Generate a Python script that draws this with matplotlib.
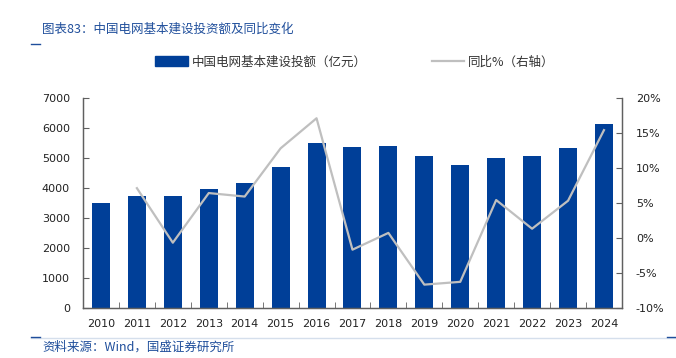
import numpy as np
import matplotlib
matplotlib.use("Agg")
import matplotlib.pyplot as plt
from matplotlib.patches import Patch
from matplotlib.lines import Line2D

plt.rcParams['font.family'] = ['DejaVu Sans', 'Noto Sans CJK SC']

years = ['2010', '2011', '2012', '2013', '2014', '2015', '2016', '2017',
         '2018', '2019', '2020', '2021', '2022', '2023', '2024']
invest = [3490, 3740, 3720, 3960, 4160, 4680, 5490, 5380, 5410,
          5070, 4760, 4990, 5070, 5330, 6140]
# yoy starts in 2011
yoy = [7.1, -0.7, 6.4, 5.9, 12.8, 17.1, -1.7, 0.7, -6.7, -6.3, 5.4, 1.3, 5.3, 15.4]

bar_color = '#003F98'
line_color = '#BFBFBF'
title_color = '#1F4E9B'
cjk = ['Noto Sans CJK SC', 'DejaVu Sans']

fig = plt.figure(figsize=(6.76, 3.58), dpi=100)
ax = fig.add_axes([0.1228, 0.1405, 0.7972, 0.5858])
ax2 = ax.twinx()

x = np.arange(len(years))
ax.bar(x, invest, width=0.5, color=bar_color, zorder=2)
ax2.plot(x[1:], yoy, color=line_color, lw=1.6, zorder=3)

ax.set_xlim(-0.5, len(years) - 0.5)
ax.set_ylim(0, 7000)
ax.set_yticks(np.arange(0, 7001, 1000))
ax2.set_ylim(-10, 20)
ax2.set_yticks(np.arange(-10, 21, 5))
ax2.set_yticklabels([f'{v}%' for v in range(-10, 21, 5)])

ax.set_xticks(x)
ax.set_xticklabels(years)
ax.set_xticks(np.arange(-0.5, len(years), 1), minor=True)
ax.tick_params(axis='x', which='major', length=0, pad=8, labelsize=8, colors='#222222')
ax.tick_params(axis='x', which='minor', length=4, direction='in', color='#606060')
ax.tick_params(axis='y', length=4.5, direction='in', pad=9.5, labelsize=8,
               colors='#222222', color='#606060')
ax2.tick_params(axis='y', length=4.5, direction='in', pad=10, labelsize=8,
                colors='#222222', color='#606060')

for a in (ax, ax2):
    a.spines['top'].set_visible(False)
    for s in ('left', 'right', 'bottom'):
        a.spines[s].set_color('#606060')
        a.spines[s].set_linewidth(0.9)
ax2.set_zorder(ax.get_zorder() + 1)
ax2.patch.set_visible(False)

handles = [Patch(facecolor=bar_color, edgecolor=bar_color),
           Line2D([0], [0], color=line_color, lw=1.6)]
labels = ['中国电网基本建设投额（亿元）', '同比%（右轴）']
fig.legend(handles, labels, loc='center', bbox_to_anchor=(0.525, 0.827), ncol=2,
           frameon=False, handlelength=2.6, handleheight=0.8, handletextpad=0.3,
           columnspacing=5.2, prop={'family': cjk, 'size': 9}, labelcolor='#333333')

fig.text(42 / 676, 1 - 29 / 358, '图表83：中国电网基本建设投资额及同比变化', color=title_color,
         fontsize=9, family=cjk, style='italic', va='center', ha='left')
fig.text(42 / 676, 1 - 347 / 358, '资料来源：Wind，国盛证券研究所', color=title_color,
         fontsize=9, family=cjk, style='italic', va='center', ha='left')

# decorative rules
fig.add_artist(Line2D([31 / 676, 40 / 676], [1 - 44 / 358] * 2, color=title_color, lw=1))
fig.add_artist(Line2D([31 / 676, 676 / 676], [1 - 338 / 358] * 2, color='#D5DFEC', lw=1))
fig.add_artist(Line2D([31 / 676, 40 / 676], [1 - 337 / 358] * 2, color=title_color, lw=1))
fig.add_artist(Line2D([667 / 676, 676 / 676], [1 - 337 / 358] * 2, color=title_color, lw=1))

fig.savefig('out.png', dpi=100)
